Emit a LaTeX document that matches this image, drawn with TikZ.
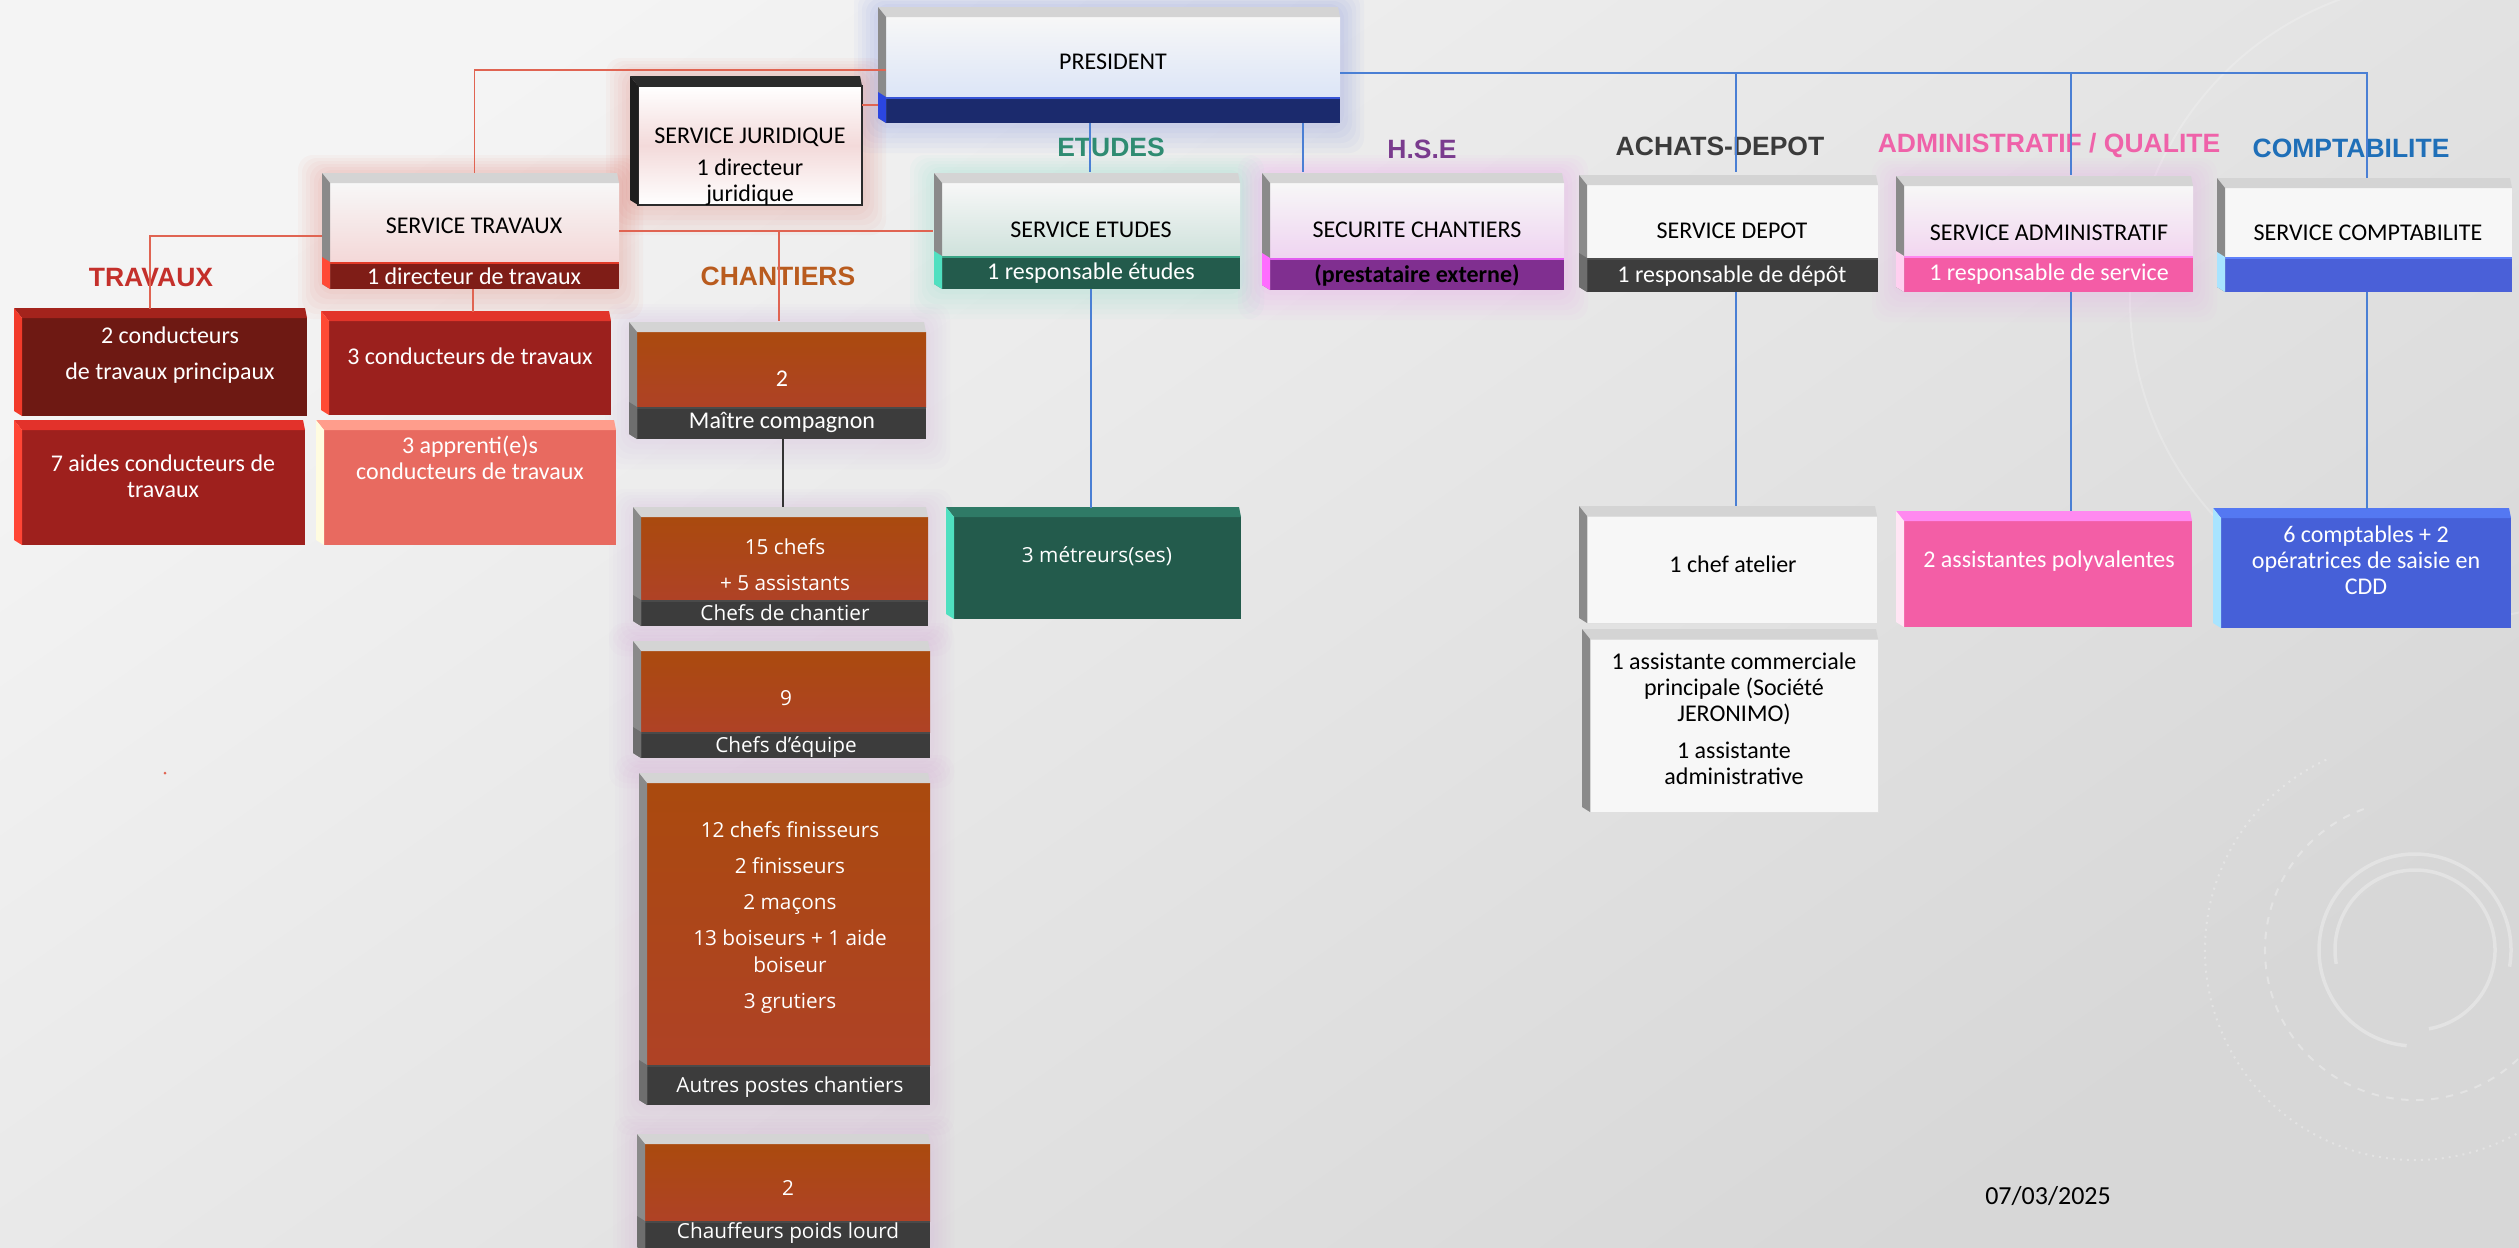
\documentclass[tikz,border=0pt]{standalone}
\usepackage{fontspec}
\setmainfont{Carlito}
\newfontfamily\osans{Open Sans}
\newfontfamily\lsans{Liberation Sans}
\usetikzlibrary{positioning,calc,fit,backgrounds}

\definecolor{bgtop}{HTML}{F4F4F4}
\definecolor{bgbot}{HTML}{D7D7D7}
\definecolor{bevtop}{HTML}{D4D4D4}
\definecolor{bevside}{HTML}{8A8A8A}
\definecolor{facew}{HTML}{F7F7F7}
\definecolor{linered}{HTML}{E06452}
\definecolor{lineblue}{HTML}{4A7FD4}
\definecolor{prestint}{HTML}{DCE5F7}
\definecolor{presnavy}{HTML}{1B2A6D}
\definecolor{presedge}{HTML}{3553D6}
\definecolor{presside}{HTML}{2B46E0}
\definecolor{jurdark}{HTML}{2B2B2B}
\definecolor{jurside}{HTML}{1E1E1E}
\definecolor{jurtint}{HTML}{F3DADA}
\definecolor{travtint}{HTML}{F4D8D8}
\definecolor{travred}{HTML}{7F1D17}
\definecolor{travedge}{HTML}{E23A28}
\definecolor{travside}{HTML}{FF4A36}
\definecolor{etutint}{HTML}{CFE2DC}
\definecolor{etugreen}{HTML}{235B4C}
\definecolor{etuedge}{HTML}{3AA586}
\definecolor{etuside}{HTML}{4FE0C0}
\definecolor{mettop}{HTML}{2F7A66}
\definecolor{hsetint}{HTML}{EFD4F1}
\definecolor{hsepurple}{HTML}{802F90}
\definecolor{hseedge}{HTML}{E25DF0}
\definecolor{hseside}{HTML}{FF6CFF}
\definecolor{depgray}{HTML}{3D3D3D}
\definecolor{depedge}{HTML}{4C4C4C}
\definecolor{admtint}{HTML}{F2D6F0}
\definecolor{admpink}{HTML}{F45CA6}
\definecolor{admedge}{HTML}{FF88F0}
\definecolor{admside}{HTML}{FFD0F0}
\definecolor{adface}{HTML}{F35EA6}
\definecolor{adtop}{HTML}{FF89F0}
\definecolor{adside}{HTML}{FFE6F4}
\definecolor{cptblue}{HTML}{4A60D8}
\definecolor{cptedge}{HTML}{5E80FA}
\definecolor{cptside}{HTML}{A8E4FF}
\definecolor{cpface}{HTML}{4660D8}
\definecolor{cptop}{HTML}{5478F2}
\definecolor{tra}{HTML}{6E1913}
\definecolor{tratop}{HTML}{A3231C}
\definecolor{traside}{HTML}{F23A2A}
\definecolor{trb}{HTML}{9B201D}
\definecolor{trbtop}{HTML}{E2342A}
\definecolor{trbside}{HTML}{FF4A34}
\definecolor{trc}{HTML}{9E201D}
\definecolor{trctop}{HTML}{E3322B}
\definecolor{trcside}{HTML}{FF4535}
\definecolor{trd}{HTML}{E86A60}
\definecolor{trdtop}{HTML}{FF9D8C}
\definecolor{trdside}{HTML}{FFFCE0}
\definecolor{chanA}{HTML}{AA4A0E}
\definecolor{chanB}{HTML}{AF4226}
\definecolor{changlow}{HTML}{C890DC}
\definecolor{darkstrip}{HTML}{3C3C3C}
\definecolor{darkedge}{HTML}{4A4A4A}
\definecolor{darkside}{HTML}{6E6E6E}
\definecolor{labtrav}{HTML}{C4302B}
\definecolor{labchan}{HTML}{B95B1E}
\definecolor{labetu}{HTML}{2F8C72}
\definecolor{labhse}{HTML}{7A3B8E}
\definecolor{labdep}{HTML}{3B3B3B}
\definecolor{labadm}{HTML}{EF62A9}
\definecolor{labcpt}{HTML}{1F6FB8}

\tikzset{
  face/.style={inner sep=0pt, outer sep=0pt},
  strip/.style 2 args={inner sep=0pt, outer sep=0pt, fill=#1,
    path picture={\draw[#2, line width=1.6pt] (path picture bounding box.north west) -- (path picture bounding box.north east);}},
  ttl/.style={inner sep=0pt, align=center, font=\fontsize{9.6}{10.4}\selectfont},
  wtl/.style={ttl, text=white},
  ctl/.style={inner sep=0pt, align=center, text=white, font=\osans\fontsize{8.3}{10.8}\selectfont},
  lab/.style={inner sep=0pt, font=\lsans\bfseries\fontsize{10.6}{12}\selectfont},
  redl/.style={draw=linered, line width=0.6pt},
  bluel/.style={draw=lineblue, line width=0.6pt},
  blkl/.style={draw=black!80, line width=0.6pt},
  decor/.style={white, opacity=.3}
}

% bevel: box top, box bottom, top colour, side colour
\newcommand{\bev}[4]{%
  \fill[#3] (#1.north west) -- ++(-8,-10) -- ($(#1.north east)+(-2,-10)$) -- (#1.north east) -- cycle;
  \fill[#4] (#1.north west) -- ++(-8,-10) -- ($(#2.south west)+(-8,-5)$) -- (#2.south west) -- cycle;}
\newcommand{\sbev}[2]{%
  \fill[#2] (#1.north west) -- ++(-8,-5) -- ($(#1.south west)+(-8,-5)$) -- (#1.south west) -- cycle;}
\newcommand{\glow}[3]{%
  \foreach \g in {1,...,6}
    \fill[#3, opacity=.03, rounded corners=6pt] ($(#1.north west)+(-8-4*\g,-10-3*\g)$) rectangle ($(#2.south east)+(4*\g,5*\g)$);}

\begin{document}
\begin{tikzpicture}[x=0.4pt, y=-0.4pt]
  \useasboundingbox (0,0) rectangle (2519,1247);
  \begin{pgfonlayer}{background}
    \shade[top color=bgtop, bottom color=bgbot, shading angle=35] (0,0) rectangle (2519,1247);
    \draw[decor, line width=1.4pt] (2415,950) ++(-95:38.4pt) arc[start angle=-95, end angle=-370, radius=38.4pt];
    \draw[decor, line width=1.4pt] (2415,950) ++(190:32pt) arc[start angle=190, end angle=-80, radius=32pt];
    \draw[decor, line width=0.8pt, dashed] (2415,950) ++(110:60pt) arc[start angle=110, end angle=320, radius=60pt];
    \draw[decor, line width=0.8pt, dotted] (2415,950) ++(115:84pt) arc[start angle=115, end angle=335, radius=84pt];
    \draw[decor, opacity=.2, line width=0.8pt] (2450,300) ++(100:128pt) arc[start angle=100, end angle=300, radius=128pt];
  \end{pgfonlayer}

  \node[face, top color=facew, bottom color=prestint, fit={(886,17) (1340,97)}] (pres) {};
  \node[strip={presnavy}{presedge}, fit={(886,97) (1340,123)}] (press) {};
  \node[face, draw=jurdark, line width=0.8pt, top color=white, bottom color=white, middle color=jurtint, fit={(638,86) (862,205)}] (jur) {};
  \node[face, top color=facew, bottom color=travtint, fit={(330,183) (619,262)}] (trav) {};
  \node[strip={travred}{travedge}, fit={(330,262) (619,289)}] (travs) {};
  \node[face, top color=facew, bottom color=etutint, fit={(942,183) (1240,256)}] (etu) {};
  \node[strip={etugreen}{etuedge}, fit={(942,256) (1240,289)}] (etus) {};
  \node[face, top color=facew, bottom color=hsetint, fit={(1270,183) (1564,258)}] (hse) {};
  \node[strip={hsepurple}{hseedge}, fit={(1270,258) (1564,290)}] (hses) {};
  \node[face, fill=facew, fit={(1587,185) (1878,258)}] (dep) {};
  \node[strip={depgray}{depedge}, fit={(1587,258) (1878,292)}] (deps) {};
  \node[face, top color=facew, bottom color=admtint, fit={(1904,186) (2193,256)}] (adm) {};
  \node[strip={admpink}{admedge}, fit={(1904,256) (2193,292)}] (adms) {};
  \node[face, fill=facew, fit={(2225,188) (2512,257)}] (cpt) {};
  \node[strip={cptblue}{cptedge}, fit={(2225,257) (2512,292)}] (cpts) {};

  \node[face, fill=tra, fit={(22,318) (307,416)}] (tr1) {};
  \node[face, fill=trb, fit={(329,321) (611,415)}] (tr2) {};
  \node[face, fill=trc, fit={(22,430) (305,545)}] (tr3) {};
  \node[face, fill=trd, fit={(324,430) (616,545)}] (tr4) {};

  \node[face, top color=chanA, bottom color=chanB, fit={(637,332) (926,407)}] (mc) {};
  \node[strip={darkstrip}{darkedge}, fit={(637,407) (926,439)}] (mcs) {};
  \node[face, top color=chanA, bottom color=chanB, fit={(641,517) (928,600)}] (ch1) {};
  \node[strip={darkstrip}{darkedge}, fit={(641,600) (928,626)}] (ch1s) {};
  \node[face, top color=chanA, bottom color=chanB, fit={(641,651) (930,732)}] (ch2) {};
  \node[strip={darkstrip}{darkedge}, fit={(641,732) (930,758)}] (ch2s) {};
  \node[face, top color=chanA, bottom color=chanB, fit={(647,783) (930,1065)}] (ch3) {};
  \node[strip={darkstrip}{darkedge}, fit={(647,1065) (930,1105)}] (ch3s) {};
  \node[face, top color=chanA, bottom color=chanB, fit={(645,1144) (930,1221)}] (ch4) {};
  \node[strip={darkstrip}{darkedge}, fit={(645,1221) (930,1252)}] (ch4s) {};

  \node[face, fill=etugreen, fit={(954,517) (1241,619)}] (met) {};
  \node[face, fill=facew, draw=black!12, fit={(1587,516) (1877,623)}] (dp1) {};
  \node[face, fill=facew, draw=black!12, fit={(1590,639) (1878,812)}] (dp2) {};
  \node[face, fill=adface, fit={(1904,521) (2192,627)}] (ad1) {};
  \node[face, fill=cpface, fit={(2221,518) (2511,628)}] (cp1) {};

  \bev{pres}{press}{bevtop}{bevside} \sbev{press}{presside}
  \bev{jur}{jur}{jurdark}{jurside}
  \bev{trav}{travs}{bevtop}{bevside} \sbev{travs}{travside}
  \bev{etu}{etus}{bevtop}{bevside} \sbev{etus}{etuside}
  \bev{hse}{hses}{bevtop}{bevside} \sbev{hses}{hseside}
  \bev{dep}{deps}{bevtop}{bevside} \sbev{deps}{darkside}
  \bev{adm}{adms}{bevtop}{bevside} \sbev{adms}{admside}
  \bev{cpt}{cpts}{bevtop}{bevside} \sbev{cpts}{cptside}
  \bev{tr1}{tr1}{tratop}{traside}
  \bev{tr2}{tr2}{trbtop}{trbside}
  \bev{tr3}{tr3}{trctop}{trcside}
  \bev{tr4}{tr4}{trdtop}{trdside}
  \bev{mc}{mcs}{bevtop}{bevside} \sbev{mcs}{darkside}
  \bev{ch1}{ch1s}{bevtop}{bevside} \sbev{ch1s}{darkside}
  \bev{ch2}{ch2s}{bevtop}{bevside} \sbev{ch2s}{darkside}
  \bev{ch3}{ch3s}{bevtop}{bevside} \sbev{ch3s}{darkside}
  \bev{ch4}{ch4s}{bevtop}{bevside} \sbev{ch4s}{darkside}
  \bev{met}{met}{mettop}{etuside}
  \bev{dp1}{dp1}{bevtop}{bevside}
  \bev{dp2}{dp2}{bevtop}{bevside}
  \bev{ad1}{ad1}{adtop}{adside}
  \bev{cp1}{cp1}{cptop}{cptside}

  \begin{pgfonlayer}{background}
    \glow{pres}{press}{presedge}
    \glow{jur}{jur}{travedge}
    \glow{trav}{travs}{travedge}
    \glow{etu}{etus}{etuside}
    \glow{hse}{hses}{hseside}
    \glow{adm}{adms}{admedge}
    \glow{mc}{mcs}{changlow}
    \glow{ch1}{ch1s}{changlow}
    \glow{ch2}{ch2s}{changlow}
    \glow{ch3}{ch3s}{changlow}
    \glow{ch4}{ch4s}{changlow}
  \end{pgfonlayer}

  \node[ttl] (pres-t) at (1113,62) {PRESIDENT};
  \node[ttl] (jur-t) at (750,167) {SERVICE JURIDIQUE\\[2.6pt]1 directeur\\juridique};
  \node[ttl] (trav-t) at (474,226) {SERVICE TRAVAUX};
  \node[wtl] (travs-t) at (474,276) {1 directeur de travaux};
  \node[ttl] (etu-t) at (1091,230) {SERVICE ETUDES};
  \node[wtl] (etus-t) at (1091,273) {1 responsable études};
  \node[ttl] (hse-t) at (1417,230) {SECURITE CHANTIERS};
  \node[ttl, font=\bfseries\fontsize{9.6}{10.4}\selectfont] (hses-t) at (1417,275) {(prestataire externe)};
  \node[ttl] (dep-t) at (1732,231) {SERVICE DEPOT};
  \node[wtl] (deps-t) at (1732,276) {1 responsable de dépôt};
  \node[ttl] (adm-t) at (2049,233) {SERVICE ADMINISTRATIF};
  \node[wtl] (adms-t) at (2049,274) {1 responsable de service};
  \node[ttl] (cpt-t) at (2368,233) {SERVICE COMPTABILITE};

  \node[wtl] (tr1-t) at (170,355) {2 conducteurs\\[4pt]de travaux principaux};
  \node[wtl] (tr2-t) at (470,356) {3 conducteurs de travaux};
  \node[wtl] (tr3-t) at (163,476) {7 aides conducteurs de\\travaux};
  \node[wtl] (tr4-t) at (470,458) {3 apprenti(e)s\\conducteurs de travaux};

  \node[wtl] (mc-t) at (782,379) {2};
  \node[wtl] (mcs-t) at (782,422) {Maître compagnon};
  \node[ctl] (ch1-t) at (785,565) {15 chefs\\[3.6pt]+ 5 assistants};
  \node[ctl] (ch1s-t) at (785,613) {Chefs de chantier};
  \node[ctl] (ch2-t) at (786,698) {9};
  \node[ctl] (ch2s-t) at (786,747) {Chefs d’équipe};
  \node[ctl] (ch3-t) at (790,918) {12 chefs finisseurs\\[3.6pt]2 finisseurs\\[3.6pt]2 maçons\\[3.6pt]13 boiseurs + 1 aide\\boiseur\\[3.6pt]3 grutiers};
  \node[ctl] (ch3s-t) at (790,1087) {Autres postes chantiers};
  \node[ctl] (ch4-t) at (788,1188) {2};
  \node[ctl] (ch4s-t) at (788,1233) {Chauffeurs poids lourd};
  \node[ctl] (met-t) at (1097,556) {3 métreurs(ses)};
  \node[ttl] (dp1-t) at (1733,564) {1 chef atelier};
  \node[ttl] (dp2-t) at (1734,719) {1 assistante commerciale\\principale (Société\\JERONIMO)\\[4.4pt]1 assistante\\administrative};
  \node[wtl] (ad1-t) at (2049,561) {2 assistantes polyvalentes};
  \node[wtl] (cp1-t) at (2366,560) {6 comptables + 2\\opératrices de saisie en\\CDD};

  \node[lab, text=labtrav] (trav-l) at (151,278) {TRAVAUX};
  \node[lab, text=labchan] (chan-l) at (778,276) {CHANTIERS};
  \node[lab, text=labetu] (etu-l) at (1111,147) {ETUDES};
  \node[lab, text=labhse] (hse-l) at (1422,149) {H.S.E};
  \node[lab, text=labdep] (dep-l) at (1720,146) {ACHATS-DEPOT};
  \node[lab, text=labadm] (adm-l) at (2049,146) {ADMINISTRATIF / QUALITE};
  \node[lab, text=labcpt] (cpt-l) at (2351,148) {COMPTABILITE};

  \node[ttl, font=\fontsize{10.4}{12}\selectfont] (date) at (2048,1196) {07/03/2025};
  \fill[linered] (165,773) circle (0.6pt);

  \draw[redl] ($(pres.north west)+(0,53)$) -| ($(trav.north)+(0,-10)$);
  \draw[redl] ($(jur.north east)+(0,19)$) -- ($(pres.north west)+(-8,88)$);
  \draw[redl] ($(trav.north west)+(-8,53)$) -| ($(tr1.north west)+(128,-9)$);
  \draw[redl] ($(trav.north east)+(0,48)$) -- ($(etu.north west)+(-9,48)$);
  \draw[redl] ($(trav.north east)+(160,48)$) -- ($(mc.north west)+(142,-11)$);
  \draw[redl] ($(travs.south west)+(143,0)$) -- ($(tr2.north west)+(144,-9)$);
  \draw[blkl] ($(mcs.south west)+(146,0)$) -- ($(ch1.north west)+(142,-10)$);
  \draw[bluel] ($(pres.north east)+(0,56)$) -| ($(cpt.north west)+(142,-10)$);
  \draw[bluel] ($(pres.north east)+(396,56)$) -- ($(dep.north west)+(149,-13)$);
  \draw[bluel] ($(pres.north east)+(731,56)$) -- ($(adm.north west)+(167,-11)$);
  \draw[bluel] ($(press.south west)+(204,0)$) -- ($(etu.north west)+(148,-11)$);
  \draw[bluel] ($(press.south west)+(417,0)$) -- ($(hse.north west)+(33,-11)$);
  \draw[bluel] ($(etus.south west)+(149,0)$) -- ($(met.north west)+(137,-9)$);
  \draw[bluel] ($(deps.south west)+(149,0)$) -- ($(dp1.north west)+(149,-10)$);
  \draw[bluel] ($(adms.south west)+(167,0)$) -- ($(ad1.north west)+(167,-10)$);
  \draw[bluel] ($(cpts.south west)+(142,0)$) -- ($(cp1.north west)+(146,-9)$);
\end{tikzpicture}
\end{document}
